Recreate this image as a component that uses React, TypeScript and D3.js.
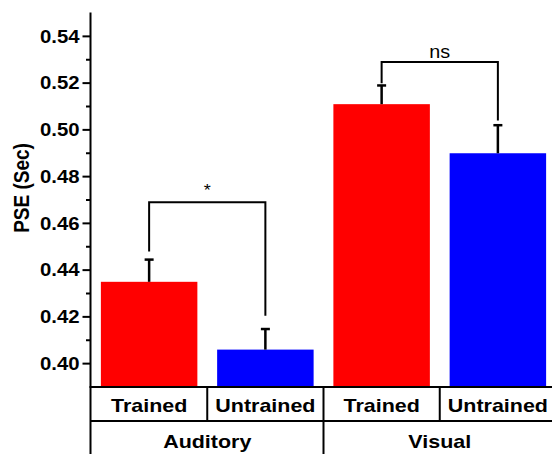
import * as d3 from 'd3'

const width = 552,
      height = 454,
      font = "'Liberation Sans', Arial, sans-serif",
      stretch = 1.13

const groups = ['Auditory', 'Visual']
const conditions = ['Trained', 'Untrained']
const barKeys = ['A-T', 'A-U', 'V-T', 'V-U']
const means = [0.435, 0.406, 0.511, 0.490]
const errors = [0.0095, 0.0088, 0.008, 0.012]
const barColors = ['#ff0000', '#0000ff']
const majorTicks = [0.40, 0.42, 0.44, 0.46, 0.48, 0.50, 0.52, 0.54]
const minorTicks = [0.41, 0.43, 0.45, 0.47, 0.49, 0.51, 0.53]

// significance brackets: bar indices, top of bracket, end of each leg
const brackets = [
  { from: 0, to: 1, top: 0.469, leftEnd: 0.448, rightEnd: 0.4205, label: '*' },
  { from: 2, to: 3, top: 0.529, leftEnd: 0.520, rightEnd: 0.504, label: 'ns' },
]

const axisX = 90.5,
      plotBottom = 387,
      row1Bottom = 421

const y = d3.scaleLinear().domain([0.39, 0.55]).range([plotBottom, 13])

const x = d3.scaleBand()
  .domain(barKeys)
  .range([91, 556])
  .paddingInner(0.17)
  .paddingOuter(0.085)

const step = x.step()
const cx = (i: number) => (x(barKeys[i]) as number) + x.bandwidth() / 2

const Label = ({ tx, ty, children, size = 19, weight = 'bold' }: any) => (
  <text
    transform={`translate(${tx},${ty}) scale(${stretch},1)`}
    textAnchor='middle'
    fontFamily={font}
    fontWeight={weight}
    fontSize={size}
    fill='#000'
  >
    {children}
  </text>
)

export default function App() {
  return (
    <svg width={width} height={height} style={{ position: 'absolute', left: 0, top: 0, background: '#fff' }}>

      <g className='bars'>
        {means.map((m, i) =>
          <rect
            key={barKeys[i]}
            x={x(barKeys[i])}
            y={y(m)}
            width={x.bandwidth()}
            height={plotBottom - y(m)}
            fill={barColors[i % 2]}
          />
        )}
      </g>

      <g className='error-bars' stroke='#000'>
        {means.map((m, i) =>
          <g key={barKeys[i]}>
            <line x1={cx(i)} x2={cx(i)} y1={y(m)} y2={y(m + errors[i])} strokeWidth='2.5' />
            <line x1={cx(i) - 4.5} x2={cx(i) + 4.5} y1={y(m + errors[i])} y2={y(m + errors[i])} strokeWidth='2.5' />
          </g>
        )}
      </g>

      <g className='brackets' stroke='#000' fill='none' strokeWidth='2'>
        {brackets.map((b, i) =>
          <path
            key={i}
            d={`M${cx(b.from)},${y(b.leftEnd)} V${y(b.top)} H${cx(b.to)} V${y(b.rightEnd)}`}
          />
        )}
      </g>
      {brackets.map((b, i) =>
        <Label
          key={i}
          tx={(cx(b.from) + cx(b.to)) / 2}
          ty={y(b.top) - (b.label === '*' ? 6 : 4)}
          size={b.label === '*' ? 16 : 17.5}
          weight='normal'
        >
          {b.label}
        </Label>
      )}

      <g className='y-axis' stroke='#000'>
        <line x1={axisX} x2={axisX} y1={12.5} y2={height} strokeWidth='2' />
        {majorTicks.map(t =>
          <line key={t} x1={axisX - 8} x2={axisX} y1={y(t)} y2={y(t)} strokeWidth='2' />
        )}
        {minorTicks.map(t =>
          <line key={t} x1={axisX - 4.5} x2={axisX} y1={y(t)} y2={y(t)} strokeWidth='2' />
        )}
      </g>
      {majorTicks.map(t =>
        <text
          key={t}
          transform={`translate(${axisX - 11},${y(t) + 6.3}) scale(${stretch},1)`}
          textAnchor='end'
          fontFamily={font}
          fontWeight='bold'
          fontSize='18'
        >
          {d3.format('.2f')(t)}
        </text>
      )}
      <text
        transform={`translate(29,188) rotate(-90) scale(1,${stretch})`}
        textAnchor='middle'
        fontFamily={font}
        fontWeight='bold'
        fontSize='19'
      >
        PSE (Sec)
      </text>

      <g className='table' stroke='#000' strokeWidth='2'>
        <line x1={axisX - 1} x2={width} y1={plotBottom} y2={plotBottom} />
        <line x1={axisX} x2={width} y1={row1Bottom} y2={row1Bottom} />
        {[1, 2, 3].map(k =>
          <line key={k} x1={91 + k * step} x2={91 + k * step} y1={plotBottom} y2={row1Bottom} />
        )}
        <line x1={91 + 2 * step} x2={91 + 2 * step} y1={row1Bottom} y2={height} />
      </g>
      {barKeys.map((k, i) =>
        <Label key={k} tx={cx(i)} ty={411.5}>{conditions[i % 2]}</Label>
      )}
      {groups.map((g, i) =>
        <Label key={g} tx={91 + (2 * i + 1) * step} ty={448}>{g}</Label>
      )}
    </svg>
  )
}
